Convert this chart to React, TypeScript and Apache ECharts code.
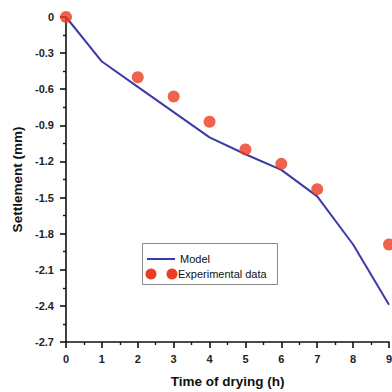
import React, { useEffect, useRef } from "react";
import * as echarts from "echarts";

const modelX = [0, 1, 2, 3, 4, 5, 6, 7, 8, 9];
const modelY = [0, -0.37, -0.58, -0.79, -1.0, -1.14, -1.27, -1.49, -1.89, -2.39];
const expX = [0, 2, 3, 4, 5, 6, 7, 9];
const expY = [0, -0.5, -0.66, -0.87, -1.1, -1.22, -1.43, -1.89];

const FONT = "Liberation Sans, Arial, sans-serif";

export default function App() {
  const ref = useRef<HTMLDivElement>(null);
  useEffect(() => {
    if (!ref.current) return;
    const chart = echarts.init(ref.current, null, { renderer: "svg" });
    const axisCommon = {
      axisLine: { show: true, onZero: false, lineStyle: { color: "#111", width: 1.6 } },
      axisTick: { show: true, inside: false, length: 6, lineStyle: { color: "#111", width: 1.6 } },
      minorTick: { show: true, splitNumber: 2, length: 3, lineStyle: { color: "#111", width: 1.4 } },
      splitLine: { show: false },
      nameLocation: "middle" as const,
      nameTextStyle: { fontFamily: FONT, fontWeight: "bold" as const, fontSize: 13.5, color: "#111" },
    };
    chart.setOption({
      animation: false,
      grid: { left: 66, top: 17, right: 3, bottom: 50, containLabel: false, outerBoundsMode: "none" },
      xAxis: {
        type: "value",
        min: 0,
        max: 9,
        interval: 1,
        name: "Time of drying (h)",
        nameGap: 32,
        ...axisCommon,
        axisLabel: { fontFamily: FONT, fontWeight: "bold", fontSize: 11, color: "#222", margin: 11 },
      },
      yAxis: {
        type: "value",
        min: -2.7,
        max: 0,
        interval: 0.3,
        name: "Settlement (mm)",
        nameGap: 41,
        ...axisCommon,
        axisLabel: {
          fontFamily: FONT,
          fontWeight: "bold",
          fontSize: 11,
          color: "#222",
          margin: 12,
          formatter: (v: number) => (Math.abs(v) < 1e-9 ? "0" : v.toFixed(1)),
        },
      },
      series: [
        {
          name: "Model",
          type: "line",
          data: modelX.map((x, i) => [x, modelY[i]]),
          showSymbol: false,
          symbol: "none",
          lineStyle: { color: "#3b3aa6", width: 2 },
          clip: false,
          z: 2,
        },
        {
          name: "Experimental data",
          type: "scatter",
          data: expX.map((x, i) => [x, expY[i]]),
          symbol: "circle",
          symbolSize: 12,
          itemStyle: { color: "#ee3b22" },
          clip: false,
          z: 3,
        },
      ],
      graphic: [
        {
          type: "rect",
          shape: { x: 142.5, y: 243.5, width: 135, height: 41 },
          style: { fill: "#fff", stroke: "#888", lineWidth: 1 },
          z: 10,
        },
        {
          type: "line",
          shape: { x1: 147, y1: 259, x2: 175, y2: 259 },
          style: { stroke: "#3b3aa6", lineWidth: 2 },
          z: 11,
        },
        {
          type: "text",
          x: 180,
          y: 259,
          style: { text: "Model", fontFamily: FONT, fontSize: 11, fill: "#111", verticalAlign: "middle" },
          z: 11,
        },
        { type: "circle", shape: { cx: 151, cy: 274, r: 5.5 }, style: { fill: "#ee3b22" }, z: 11 },
        { type: "circle", shape: { cx: 172, cy: 274, r: 5.5 }, style: { fill: "#ee3b22" }, z: 11 },
        {
          type: "text",
          x: 178,
          y: 274,
          style: { text: "Experimental data", fontFamily: FONT, fontSize: 11, fill: "#111", verticalAlign: "middle" },
          z: 11,
        },
      ],
    });
    return () => chart.dispose();
  }, []);
  return <div ref={ref} style={{ width: 392, height: 392, position: "absolute", left: 0, top: 0 }} />;
}
